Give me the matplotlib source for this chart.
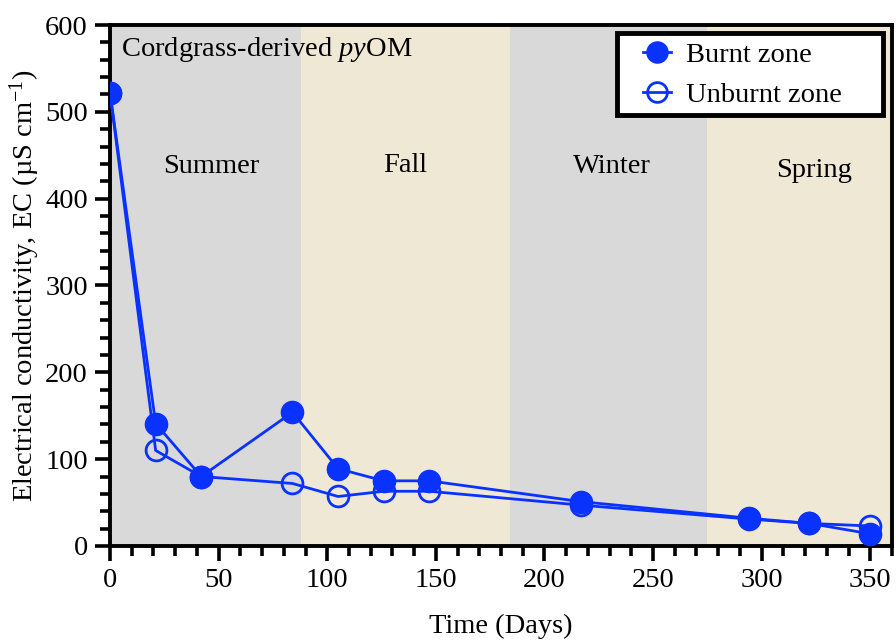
import matplotlib
matplotlib.use("Agg")
import matplotlib.pyplot as plt
from matplotlib.ticker import MultipleLocator
from matplotlib.patches import Rectangle

plt.rcParams['font.family'] = ['Liberation Serif', 'DejaVu Serif']
plt.rcParams['mathtext.fontset'] = 'custom'
plt.rcParams['mathtext.rm'] = 'Liberation Serif'
plt.rcParams['mathtext.it'] = 'Liberation Serif:italic'

# data
days = [0, 21, 42, 84, 105, 126, 147, 217, 294, 322, 350]
burnt = [522, 141, 80, 154, 89, 75, 75, 51, 32, 26, 14]
unburnt = [522, 110, 80, 72, 57, 63, 63, 47, 31, 26, 23]

seasons = ['Summer', 'Fall', 'Winter', 'Spring']
season_edges = [0, 88, 184, 275, 360]
season_colors = ['#d9d9d9', '#efe8d5', '#d9d9d9', '#efe8d5']
season_label_x = [46.5, 136, 231, 324]
season_label_y = [437, 438, 437, 433]

blue = '#0a32ff'

fig = plt.figure(figsize=(8.96, 6.43), dpi=100)
ax = fig.add_axes([0.1228, 0.1509, 0.8727, 0.8102])

for i in range(len(seasons)):
    ax.axvspan(season_edges[i], season_edges[i+1], color=season_colors[i], lw=0, zorder=0)
    ax.text(season_label_x[i], season_label_y[i], seasons[i],
            ha='center', va='center', fontsize=20.5)

ax.plot(days, unburnt, '-o', color=blue, lw=2, ms=15, mfc='none', mew=2,
        label='Unburnt zone', zorder=3)
ax.plot(days, burnt, '-o', color=blue, lw=2, ms=16, mfc=blue, mec=blue,
        label='Burnt zone', zorder=4)

ax.text(5, 572, 'Cordgrass-derived $\\it{py}$OM', fontsize=20.5, va='center')

ax.set_xlim(0, 360)
ax.set_ylim(0, 600)
ax.xaxis.set_major_locator(MultipleLocator(50))
ax.xaxis.set_minor_locator(MultipleLocator(10))
ax.yaxis.set_major_locator(MultipleLocator(100))
ax.yaxis.set_minor_locator(MultipleLocator(20))
ax.tick_params(which='both', direction='out', width=2.6, top=False, right=False,
               labelsize=20.5, pad=5)
ax.tick_params(which='major', length=11)
ax.tick_params(which='minor', length=7)
for s in ax.spines.values():
    s.set_linewidth(2.8)

ax.set_xlabel('Time (Days)', fontsize=20.5, labelpad=15)
ax.set_ylabel('Electrical conductivity, EC (µS cm$^{-1}$)', fontsize=20.5, labelpad=2)

# legend box drawn by hand, legend itself without frame
box = Rectangle((0.648, 0.827), 0.3405, 0.1576, transform=ax.transAxes,
                facecolor='white', edgecolor='black', lw=3.5, zorder=5, clip_on=False)
ax.add_patch(box)
h, l = ax.get_legend_handles_labels()
leg = ax.legend(h[::-1], l[::-1], loc='upper left', bbox_to_anchor=(0.6816, 0.967),
                fontsize=20.5, frameon=False, markerscale=0.95, handlelength=1.0,
                borderpad=0, borderaxespad=0, labelspacing=0.5, handletextpad=0.5)
leg.set_zorder(6)

fig.savefig('out.png', dpi=100)
